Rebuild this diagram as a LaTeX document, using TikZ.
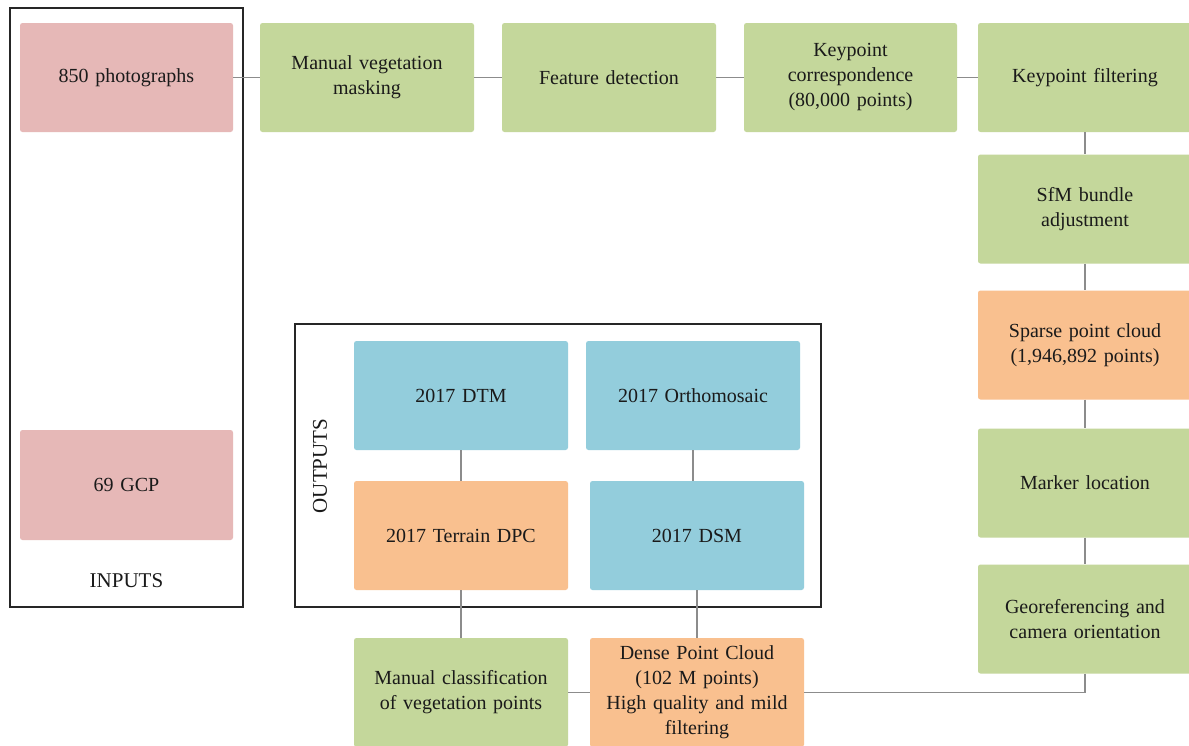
\documentclass[tikz,border=0pt]{standalone}
\usepackage{fontspec}
\setmainfont{Liberation Serif}
\definecolor{cpink}{HTML}{E6B8B7}
\definecolor{cgreen}{HTML}{C4D79B}
\definecolor{corange}{HTML}{F9C08F}
\definecolor{cblue}{HTML}{93CDDC}
\definecolor{cline}{HTML}{8C8C8C}
\definecolor{ctext}{HTML}{1A1A1A}
\begin{document}
\begin{tikzpicture}[x=1pt,y=-1pt,
  box/.style={rounded corners=2.5pt, minimum width=214pt, minimum height=109pt, inner sep=2pt,
    align=center, text width=205pt, text=ctext, font=\fontsize{20}{25}\selectfont},
  pinkbox/.style={box, fill=cpink},
  greenbox/.style={box, fill=cgreen},
  orangebox/.style={box, fill=corange},
  bluebox/.style={box, fill=cblue},
  frame/.style={draw=black!85, line width=1.4pt, inner sep=0pt},
  conn/.style={draw=cline, line width=1.3pt},
  lbl/.style={text=ctext, font=\fontsize{21}{25}\selectfont, inner sep=0pt}]
\useasboundingbox[fill=white] (0,0) rectangle (1189,745);
\begin{scope}
\clip (0,0) rectangle (1189,745);
% frames
\node[frame, minimum width=233pt, minimum height=599pt] (inframe) at (126.5,307.5) {};
\node[frame, minimum width=526pt, minimum height=283pt] (outframe) at (558,465.5) {};
\node[lbl] (inlbl) at (126.5,581) {INPUTS};
\node[lbl, rotate=90] (outlbl) at (320,466) {OUTPUTS};
% inputs
\node[pinkbox, minimum width=213pt] (photos) at (126.5,77.5) {850 photographs};
\node[pinkbox, minimum width=213pt, minimum height=110pt] (gcp) at (126.5,485) {69 GCP};
% top row
\node[greenbox] (mask) at (367,77.5) {Manual vegetation\\masking};
\node[greenbox] (feat) at (609,77.5) {Feature detection};
\node[greenbox, minimum width=213pt] (kpc) at (850.5,77.5) {Keypoint\\correspondence\\(80,000 points)};
\node[greenbox] (kpf) at (1085,77.5) {Keypoint filtering};
% right column
\node[greenbox] (sfm) at (1085,209) {SfM bundle\\adjustment};
\node[orangebox] (sparse) at (1085,345) {Sparse point cloud\\(1,946,892 points)};
\node[greenbox] (marker) at (1085,483) {Marker location};
\node[greenbox] (georef) at (1085,619) {Georeferencing and\\camera orientation};
% outputs
\node[bluebox] (dtm) at (461,395.5) {2017 DTM};
\node[bluebox] (ortho) at (693,395.5) {2017 Orthomosaic};
\node[orangebox] (terrain) at (461,535.5) {2017 Terrain DPC};
\node[bluebox] (dsm) at (697,535.5) {2017 DSM};
% bottom
\node[greenbox] (manual) at (461,692.5) {Manual classification\\of vegetation points};
\node[orangebox] (dense) at (697,692.5) {Dense Point Cloud\\(102 M points)\\High quality and mild\\filtering};
% connectors
\draw[conn] (photos) -- (mask);
\draw[conn] (mask) -- (feat);
\draw[conn] (feat) -- (kpc);
\draw[conn] (kpc) -- (kpf);
\draw[conn] (kpf) -- (sfm);
\draw[conn] (sfm) -- (sparse);
\draw[conn] (sparse) -- (marker);
\draw[conn] (marker) -- (georef);
\draw[conn] (georef.south) |- (dense.east);
\draw[conn] (dense) -- (manual);
\draw[conn] (manual) -- (terrain);
\draw[conn] (terrain) -- (dtm);
\draw[conn] (dense) -- (dsm);
\draw[conn] (ortho.south) -- (ortho.south |- dsm.north);
\end{scope}
\end{tikzpicture}
\end{document}
